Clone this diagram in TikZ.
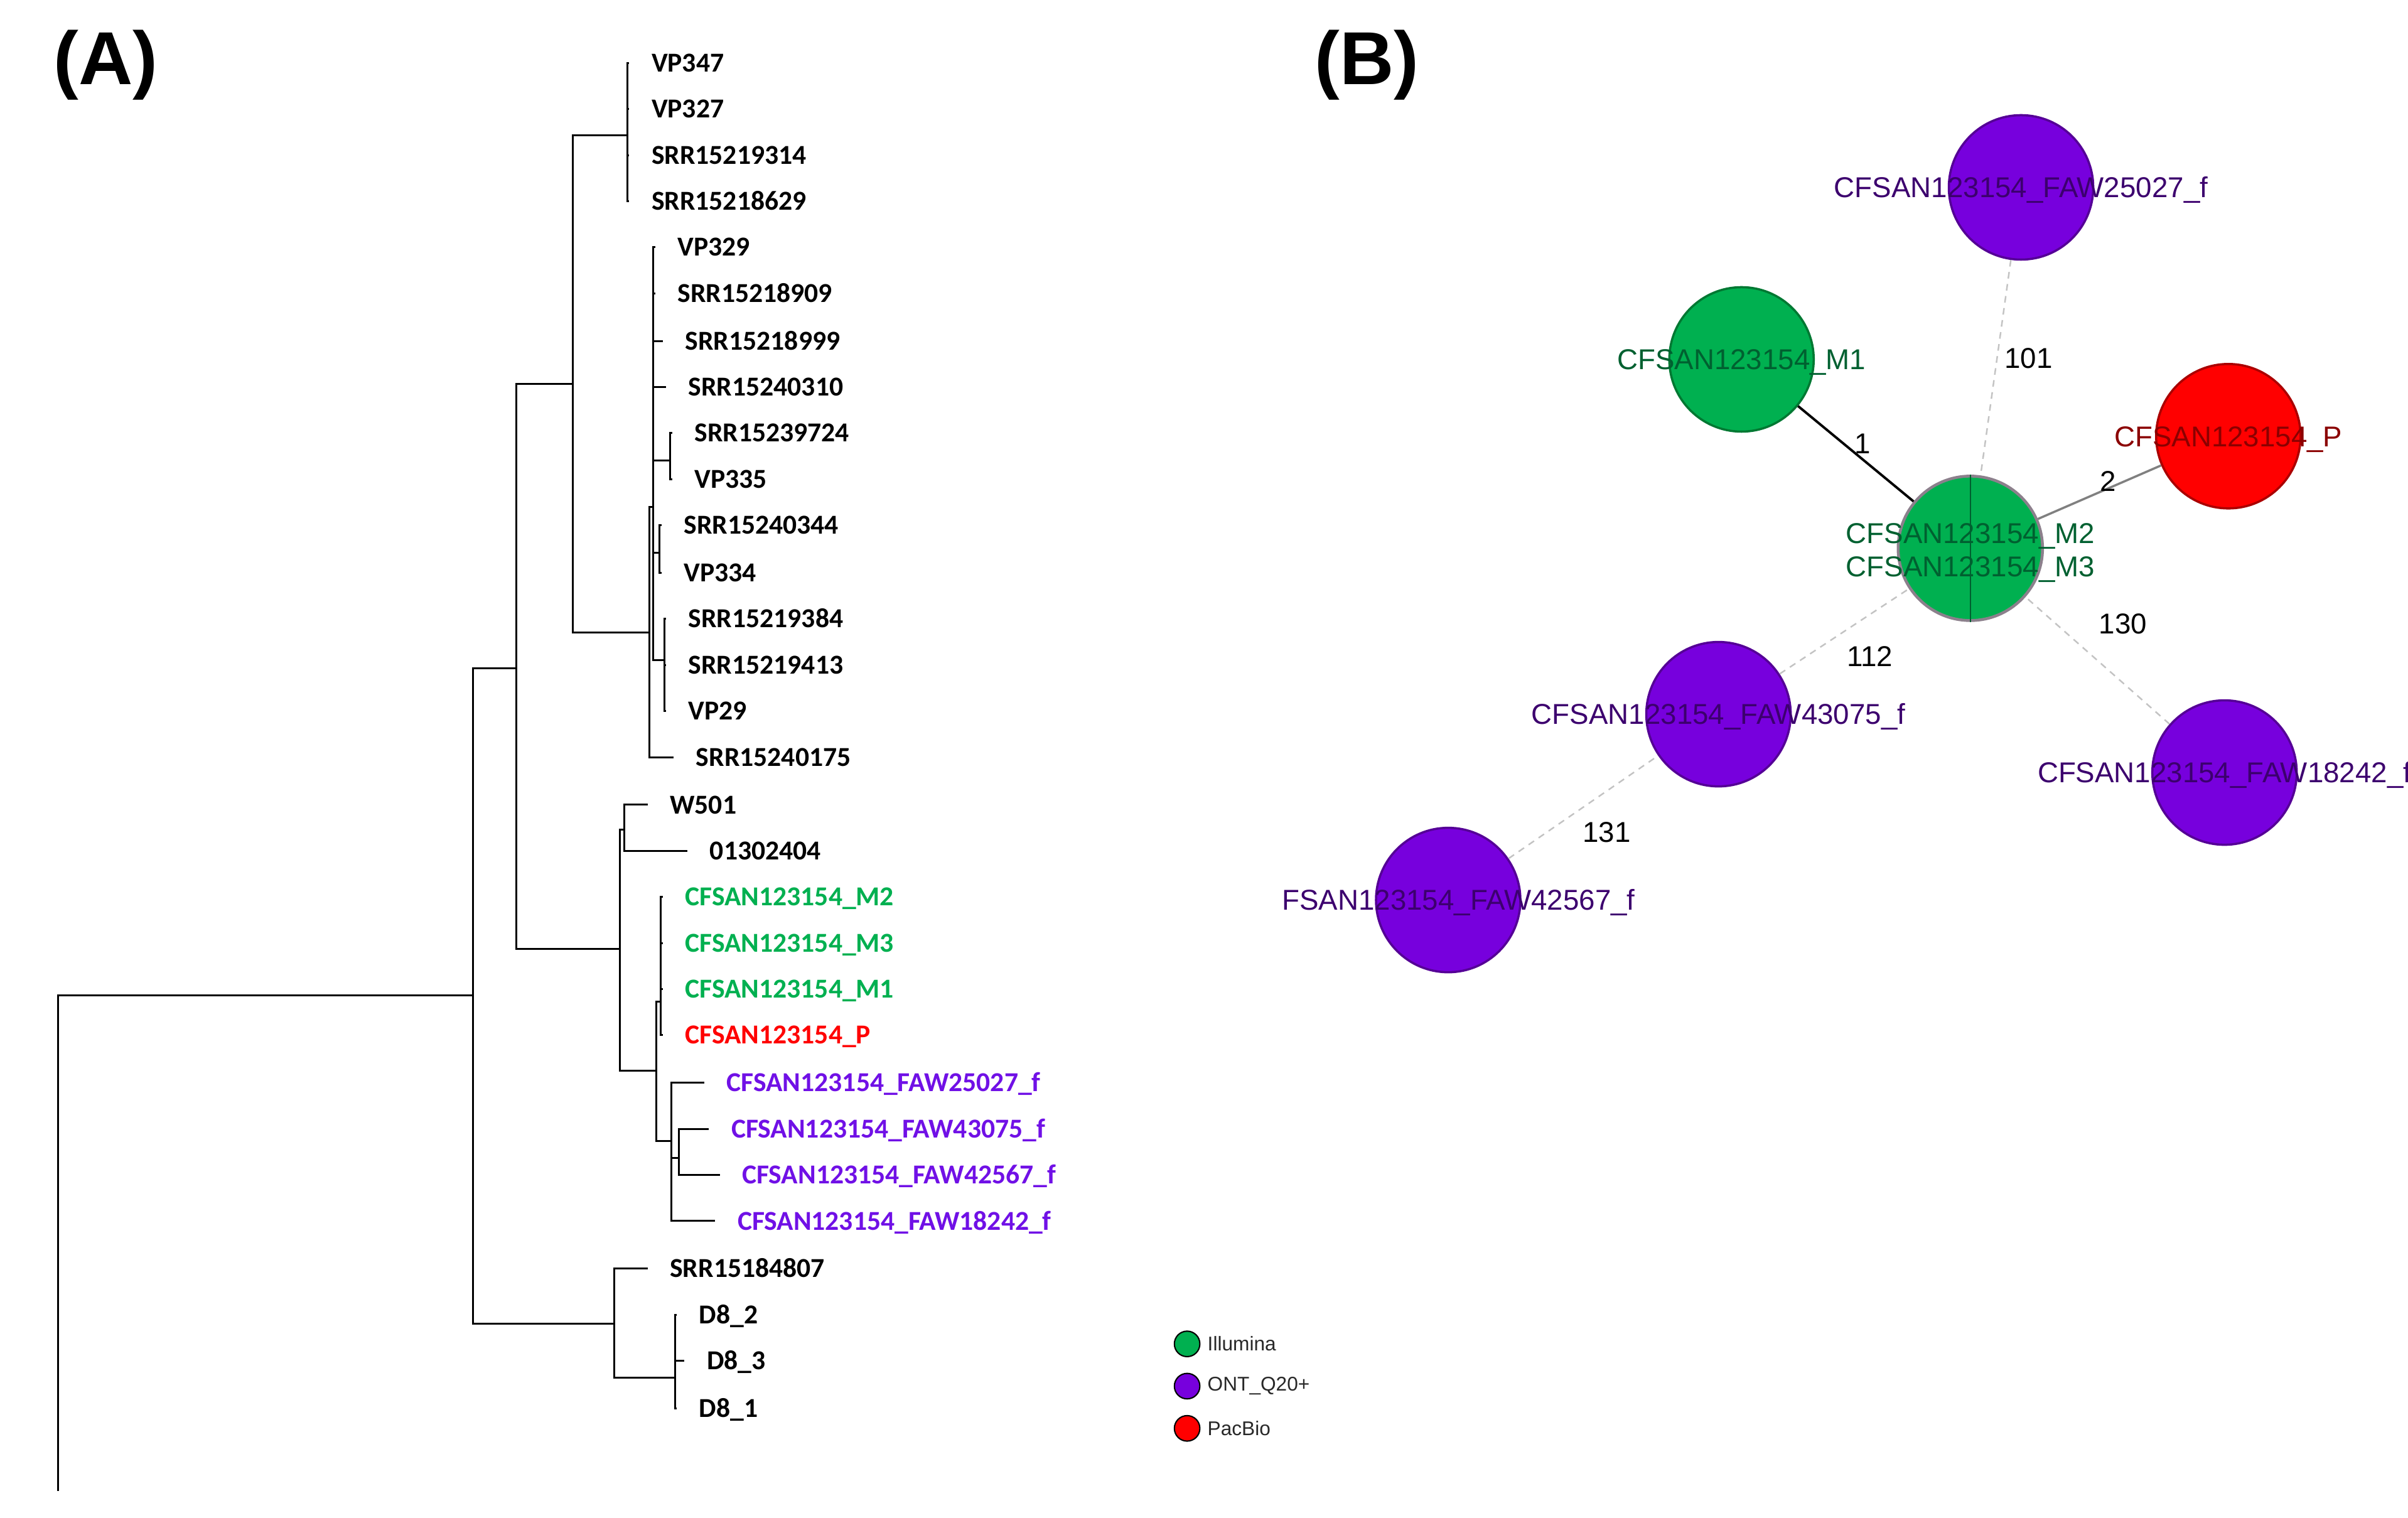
\documentclass[tikz,border=0pt]{standalone}
\usepackage{fontspec}
\setmainfont{Liberation Sans}
\newfontfamily\treefont{Carlito}
\usepackage{tikz}
\usetikzlibrary{positioning}

\definecolor{illgreen}{RGB}{0,176,80}
\definecolor{illedge}{RGB}{0,120,50}
\definecolor{ontpurple}{RGB}{119,0,221}
\definecolor{ontedge}{RGB}{85,0,150}
\definecolor{treepurple}{RGB}{112,16,230}
\definecolor{pacred}{RGB}{255,0,0}
\definecolor{pacedge}{RGB}{170,0,0}
\definecolor{dkgreen}{RGB}{0,96,48}
\definecolor{dkpurple}{RGB}{60,0,110}
\definecolor{dkred}{RGB}{139,0,0}
\definecolor{farcol}{RGB}{195,195,195}
\definecolor{midcol}{RGB}{128,128,128}
\definecolor{ringcol}{RGB}{140,128,140}
\definecolor{legtextcol}{RGB}{40,40,40}

\begin{document}
\begin{tikzpicture}[x=0.024464cm,y=-0.024464cm,line cap=rect]
  \tikzstyle{stem}=[draw=black,line width=0.85pt,to path={|- (\tikztotarget) \tikztonodes}]
  \tikzstyle{twig}=[stem,shorten >=10.4pt]
  \tikzstyle{leaflab}=[anchor=west,inner sep=0pt,text height=8pt,text depth=0pt,
                       font=\treefont\bfseries\fontsize{12.4}{14}\selectfont]
  \tikzstyle{panel}=[inner sep=0pt,font=\bfseries\fontsize{34}{40}\selectfont]
  \tikzstyle{seq}=[circle,minimum size=2.3cm,inner sep=0pt,line width=1pt]
  \tikzstyle{nettext}=[inner sep=0pt,text height=9.3pt,text depth=0pt,
                       font=\fontsize{13}{15.2}\selectfont]
  \tikzstyle{elabel}=[inner sep=0pt,font=\fontsize{13}{15}\selectfont]
  \tikzstyle{closeedge}=[draw=black,line width=1.1pt,line cap=butt]
  \tikzstyle{midedge}=[draw=midcol,line width=1pt,line cap=butt]
  \tikzstyle{faredge}=[draw=farcol,line width=0.7pt,line cap=butt,dash pattern=on 3pt off 2.5pt]
  \tikzstyle{legdot}=[circle,draw=black,line width=0.6pt,minimum size=0.406cm,inner sep=0pt]
  \tikzstyle{legtext}=[inner sep=0pt,text=legtextcol,font=\fontsize{9}{11}\selectfont]

  \useasboundingbox (0,0) rectangle (1568,988);

  % (A) tree
  \node[panel] (labA) at (69,42.5) {(A)};

  \node[leaflab] (vp347) at (424,41) {VP347};
  \node[leaflab] (vp327) at (424,71) {VP327};
  \node[leaflab] (s314)  at (424,101) {SRR15219314};
  \node[leaflab] (s629)  at (424,131) {SRR15218629};
  \node[leaflab] (vp329) at (441,161) {VP329};
  \node[leaflab] (s909)  at (441,191) {SRR15218909};
  \node[leaflab] (s999)  at (446,222) {SRR15218999};
  \node[leaflab] (s310)  at (448,252) {SRR15240310};
  \node[leaflab] (s724)  at (452,282) {SRR15239724};
  \node[leaflab] (vp335) at (452,312) {VP335};
  \node[leaflab] (s344)  at (445,342) {SRR15240344};
  \node[leaflab] (vp334) at (445,373) {VP334};
  \node[leaflab] (s384)  at (448,403) {SRR15219384};
  \node[leaflab] (s413)  at (448,433) {SRR15219413};
  \node[leaflab] (vp29)  at (448,463) {VP29};
  \node[leaflab] (s175)  at (453,493) {SRR15240175};
  \node[leaflab] (w501)  at (436,524) {W501};
  \node[leaflab] (o404)  at (462,554) {01302404};
  \node[leaflab,text=illgreen] (m2) at (446,584) {CFSAN123154\_M2};
  \node[leaflab,text=illgreen] (m3) at (446,614) {CFSAN123154\_M3};
  \node[leaflab,text=illgreen] (m1) at (446,644) {CFSAN123154\_M1};
  \node[leaflab,text=pacred] (pbio) at (446,674) {CFSAN123154\_P};
  \node[leaflab,text=treepurple] (f25) at (473,705) {CFSAN123154\_FAW25027\_f};
  \node[leaflab,text=treepurple] (f43) at (476,735) {CFSAN123154\_FAW43075\_f};
  \node[leaflab,text=treepurple] (f42) at (483,765) {CFSAN123154\_FAW42567\_f};
  \node[leaflab,text=treepurple] (f18) at (480,795) {CFSAN123154\_FAW18242\_f};
  \node[leaflab] (s807)  at (436,826) {SRR15184807};
  \node[leaflab] (d82)   at (455,856) {D8\_2};
  \node[leaflab] (d83)   at (460,886) {D8\_3};
  \node[leaflab] (d81)   at (455,917) {D8\_1};

  \coordinate (n0)  at (38,970);
  \coordinate (n1)  at (308,648);
  \coordinate (n2)  at (336,435);
  \coordinate (n3)  at (373,250);
  \coordinate (nA)  at (408.5,88);
  \coordinate (nB)  at (423,412);
  \coordinate (nB1) at (425.5,330);
  \coordinate (nB2) at (436.5,300);
  \coordinate (nB3) at (429.5,360);
  \coordinate (nB4) at (432.5,430);
  \coordinate (nC)  at (403.7,618);
  \coordinate (nC1) at (406.6,540);
  \coordinate (nC2) at (427.5,697);
  \coordinate (nC3) at (430.4,652);
  \coordinate (nC4) at (437,743);
  \coordinate (nC5) at (442,754);
  \coordinate (nD)  at (400,862);
  \coordinate (nD1) at (439.5,897);

  \path (n0) edge[stem] (n1)
        (n1) edge[stem] (n2)
             edge[stem] (nD)
        (n2) edge[stem] (n3)
             edge[stem] (nC)
        (n3) edge[stem] (nA)
             edge[stem] (nB)
        (nA) edge[twig] (vp347) edge[twig] (vp327) edge[twig] (s314) edge[twig] (s629)
        (nB) edge[stem] (nB1)
             edge[twig] (s175)
        (nB1) edge[twig] (vp329) edge[twig] (s909) edge[twig] (s999) edge[twig] (s310)
              edge[stem] (nB2) edge[stem] (nB3) edge[stem] (nB4)
        (nB2) edge[twig] (s724) edge[twig] (vp335)
        (nB3) edge[twig] (s344) edge[twig] (vp334)
        (nB4) edge[twig] (s384) edge[twig] (s413) edge[twig] (vp29)
        (nC) edge[stem] (nC1)
             edge[stem] (nC2)
        (nC1) edge[twig] (w501) edge[twig] (o404)
        (nC2) edge[stem] (nC3)
              edge[stem] (nC4)
        (nC3) edge[twig] (m2) edge[twig] (m3) edge[twig] (m1) edge[twig] (pbio)
        (nC4) edge[twig] (f25) edge[stem] (nC5) edge[twig] (f18)
        (nC5) edge[twig] (f43) edge[twig] (f42)
        (nD) edge[twig] (s807)
             edge[stem] (nD1)
        (nD1) edge[twig] (d82) edge[twig] (d83) edge[twig] (d81);

  % legend
  \node[legdot,fill=illgreen] (lg1) at (773,875) {};
  \node[legdot,fill=ontpurple] (lg2) at (773,902.5) {};
  \node[legdot,fill=pacred] (lg3) at (773,930) {};
  \node[legtext,right=3pt of lg1] (lt1) {Illumina};
  \node[legtext,right=3pt of lg2] (lt2) {ONT\_Q20+};
  \node[legtext,right=3pt of lg3] (lt3) {PacBio};

  % (B) network
  \begin{scope}
  \clip (836,0) rectangle (1568,988);
  \node[panel] (labB) at (890,42.5) {(B)};

  \node[seq,fill=ontpurple,draw=ontedge] (nf25) at (1316,122) {};
  \node[seq,fill=illgreen,draw=illedge] (nm1) at (1134,234) {};
  \node[seq,fill=pacred,draw=pacedge] (np) at (1451,284) {};
  \node[seq,fill=illgreen,draw=ringcol,line width=1.3pt] (nmid) at (1283,357) {};
  \node[seq,fill=ontpurple,draw=ontedge] (nf43) at (1119,465) {};
  \node[seq,fill=ontpurple,draw=ontedge] (nf18) at (1448.5,503) {};
  \node[seq,fill=ontpurple,draw=ontedge] (nf42) at (943,586) {};
  \draw[dkgreen,line width=0.4pt,line cap=butt] (nmid.north) -- (nmid.south);

  \path (nm1) edge[closeedge] node[elabel,xshift=3.1pt,yshift=4.5pt] {1} (nmid)
        (np) edge[midedge] node[elabel,xshift=3.9pt,yshift=4.9pt] {2} (nmid)
        (nf25) edge[faredge] node[elabel,xshift=14.9pt,yshift=4.3pt] {101} (nmid)
        (nf43) edge[faredge] node[elabel,xshift=11.6pt,yshift=-11.3pt] {112} (nmid)
        (nf18) edge[faredge] node[elabel,xshift=11.5pt,yshift=16.6pt] {130} (nmid)
        (nf42) edge[faredge] node[elabel,xshift=10.6pt,yshift=-11.4pt] {131} (nf43);

  \node[nettext,text=dkpurple] (tf25) at (nf25) {CFSAN123154\_FAW25027\_f};
  \node[nettext,text=dkgreen] (tm1) at (nm1) {CFSAN123154\_M1};
  \node[nettext,text=dkred] (tp) at (np) {CFSAN123154\_P};
  \node[inner sep=0pt,align=center,text=dkgreen,font=\fontsize{13}{15.2}\selectfont,yshift=-2pt] (tmid) at (nmid) {CFSAN123154\_M2\\CFSAN123154\_M3};
  \node[nettext,text=dkpurple] (tf43) at (nf43) {CFSAN123154\_FAW43075\_f};
  \node[nettext,text=dkpurple] (tf18) at (nf18) {CFSAN123154\_FAW18242\_f};
  \node[nettext,text=dkpurple] (tf42) at (nf42) {CFSAN123154\_FAW42567\_f};
  \end{scope}
\end{tikzpicture}
\end{document}
